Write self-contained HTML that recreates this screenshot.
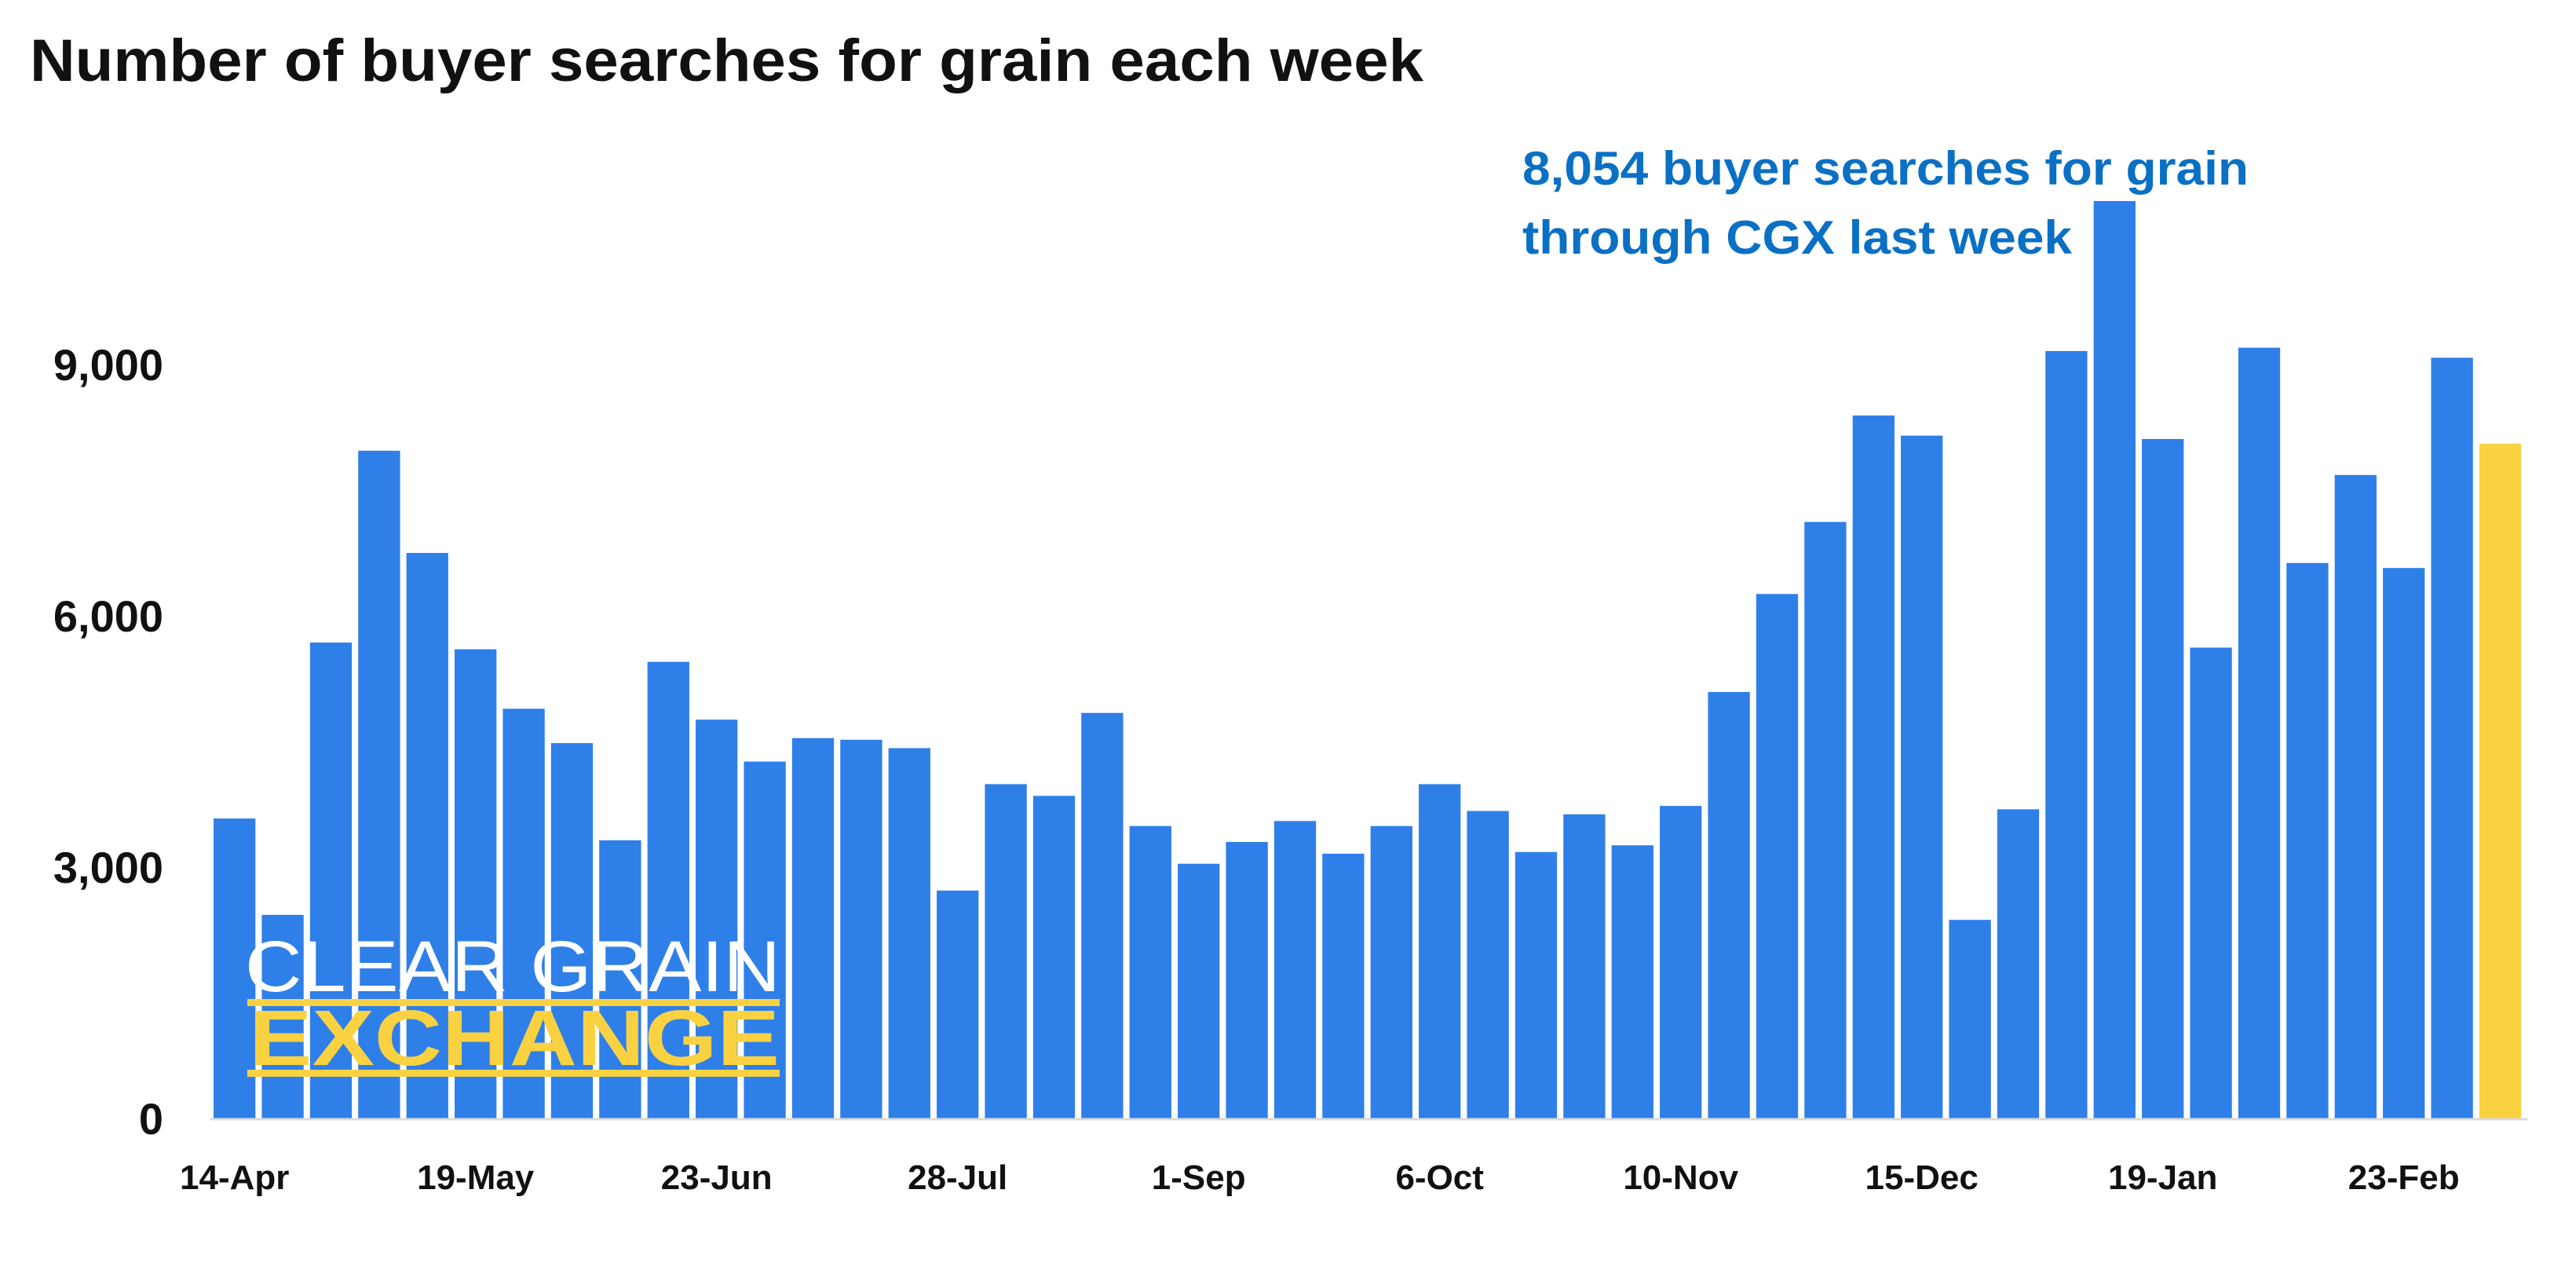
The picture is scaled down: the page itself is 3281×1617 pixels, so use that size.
<!DOCTYPE html>
<html><head><meta charset="utf-8"><style>
html,body{margin:0;padding:0;background:#fff;}
svg{display:block;}
text{font-family:"Liberation Sans",sans-serif;font-weight:bold;}
</style></head><body>
<svg width="3281" height="1617" viewBox="0 0 3281 1617" xmlns="http://www.w3.org/2000/svg">
<text x="38" y="103" font-size="76" fill="#111" textLength="1775" lengthAdjust="spacingAndGlyphs">Number of buyer searches for grain each week</text>
<g id="yaxis"></g>
<g id="bars"></g>
<g id="xaxis"></g>
<g fill="#0a70c4">
<text x="1939" y="235" font-size="60" textLength="925" lengthAdjust="spacingAndGlyphs">8,054 buyer searches for grain</text>
<text x="1939" y="323" font-size="60" textLength="700" lengthAdjust="spacingAndGlyphs">through CGX last week</text>
</g>
<g>
<text x="312" y="1262" font-size="92" fill="#fff" style="font-weight:normal" textLength="682" lengthAdjust="spacingAndGlyphs">CLEAR GRAIN</text>
<rect x="315" y="1272" width="678" height="9" fill="#fad241"/>
<rect x="315" y="1362" width="678" height="9" fill="#fad241"/>
<text x="318" y="1356" font-size="100" fill="#fad241" textLength="675" lengthAdjust="spacingAndGlyphs">EXCHANGE</text>
</g>
</svg>
<script>
const categories = ["14-Apr","21-Apr","28-Apr","5-May","12-May","19-May","26-May","2-Jun","9-Jun","16-Jun","23-Jun","30-Jun","7-Jul","14-Jul","21-Jul","28-Jul","4-Aug","11-Aug","18-Aug","25-Aug","1-Sep","8-Sep","15-Sep","22-Sep","29-Sep","6-Oct","13-Oct","20-Oct","27-Oct","3-Nov","10-Nov","17-Nov","24-Nov","1-Dec","8-Dec","15-Dec","22-Dec","29-Dec","5-Jan","12-Jan","19-Jan","26-Jan","2-Feb","9-Feb","16-Feb","23-Feb","2-Mar","9-Mar"];
const searches = [3580,2430,5680,7970,6750,5600,4890,4480,3320,5450,4760,4260,4540,4520,4420,2720,3990,3850,4840,3490,3040,3300,3550,3160,3490,3990,3670,3180,3630,3260,3730,5090,6260,7120,8390,8150,2370,3690,9160,10950,8110,5620,9200,6630,7680,6570,9080,8054];
const yTicks = [0,3000,6000,9000];
const xLabels = ["14-Apr","19-May","23-Jun","28-Jul","1-Sep","6-Oct","10-Nov","15-Dec","19-Jan","23-Feb"];
const NS="http://www.w3.org/2000/svg";
const x0=268, pitch=61.4, bw=53.3, base=1424, perUnit=320/3000;
const y=v=>base-v*perUnit;
const xc=i=>x0+pitch*i+pitch/2;
const bars=document.getElementById('bars');
searches.forEach((v,i)=>{
  const r=document.createElementNS(NS,'rect');
  r.setAttribute('x',xc(i)-bw/2);r.setAttribute('y',y(v));
  r.setAttribute('width',bw);r.setAttribute('height',base-y(v));
  r.setAttribute('fill',i===searches.length-1?'#fad241':'#2f7fe8');
  
  
  bars.appendChild(r);
});
const ya=document.getElementById('yaxis');
yTicks.forEach(t=>{
  const tx=document.createElementNS(NS,'text');
  tx.setAttribute('x',208);tx.setAttribute('y',y(t)+20);
  tx.setAttribute('text-anchor','end');tx.setAttribute('font-size','56');tx.setAttribute('fill','#111');
  tx.textContent=t.toLocaleString('en-US');
  
  
  ya.appendChild(tx);
});
const xa=document.getElementById('xaxis');
const ln=document.createElementNS(NS,'line');
ln.setAttribute('x1',x0);ln.setAttribute('x2',x0+pitch*searches.length+4);
ln.setAttribute('y1',base+1);ln.setAttribute('y2',base+1);ln.setAttribute('stroke','#d9d9d9');ln.setAttribute('stroke-width','3');


xa.appendChild(ln);
xLabels.forEach(l=>{
  const i=categories.indexOf(l);
  const tx=document.createElementNS(NS,'text');
  tx.setAttribute('x',xc(i));tx.setAttribute('y',1514);
  tx.setAttribute('text-anchor','middle');tx.setAttribute('font-size','44');tx.setAttribute('fill','#111');
  tx.textContent=l;
  
  
  xa.appendChild(tx);
});
</script>
</body></html>
